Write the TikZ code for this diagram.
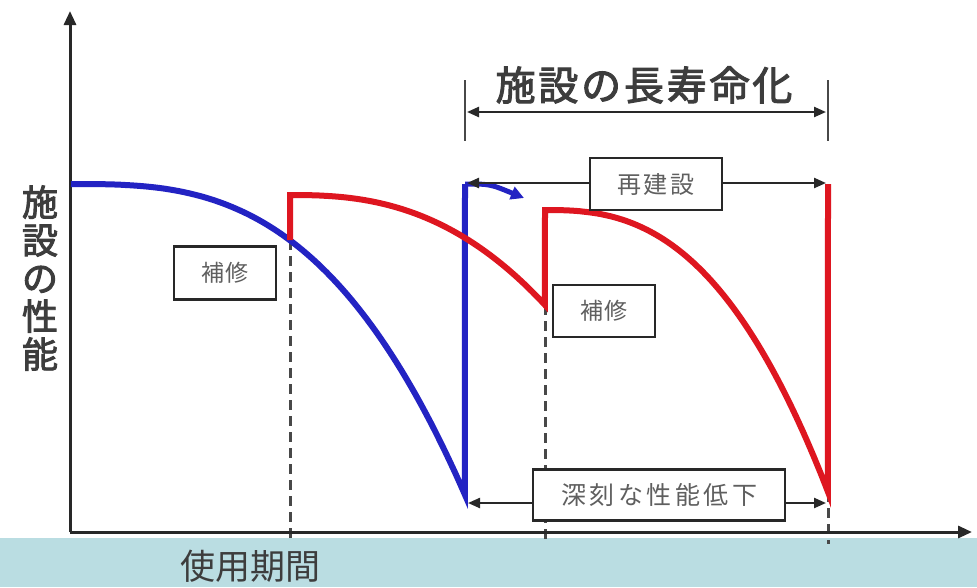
\documentclass[tikz,border=0pt]{standalone}
\usepackage{fontspec}
\newfontfamily\jp{Noto Sans CJK JP}
\newfontfamily\jpb[FakeBold=2.5]{Noto Sans CJK JP}
\usetikzlibrary{arrows.meta}
\definecolor{band}{RGB}{186,221,226}
\definecolor{bline}{RGB}{35,35,195}
\definecolor{rline}{RGB}{222,22,32}
\definecolor{boxtext}{RGB}{95,95,95}
\definecolor{dark}{RGB}{40,40,40}
\begin{document}
\begin{tikzpicture}[x=1pt,y=-1pt,
  axisline/.style={line width=3pt,draw=dark,-{Triangle[length=14pt,width=12pt]}},
  curveline/.style={line width=6pt},
  dimline/.style={line width=2.3pt,draw=dark,-{Triangle[length=12pt,width=10pt]}},
  tickline/.style={line width=2.5pt,draw=dark!85},
  dashline/.style={line width=3pt,draw=dark!85,dash pattern=on 10pt off 6pt},
  labelbox/.style={draw=dark,line width=2.3pt,fill=white,text=boxtext,inner sep=0pt,anchor=center},
]
\useasboundingbox (0,0) rectangle (977,587);
\fill[white] (0,0) rectangle (977,538);
\fill[band] (0,538) rectangle (977,587);

% dashed guides
\coordinate (r1low) at (290,240);
\coordinate (r2low) at (545,305);
\coordinate (r3low) at (828,492);
\draw[dashline] (r1low) -- (290,544);
\draw[dashline] (r2low) -- (545,544);
\draw[dashline] (r3low) -- (828,544);

% axes
\coordinate (origin) at (70,532);
\coordinate (ytop) at (70,11);
\coordinate (xend) at (972,532);
\draw[axisline] (origin) -- (ytop);
\draw[axisline] (origin) -- (xend);

% blue curve
\coordinate (bstart) at (71,184);
\coordinate (bbottom) at (465,495);
\coordinate (btop) at (465,184);
\draw[curveline,draw=bline] (bstart) -- plot[domain=0.01:1,samples=80] ({72+393*\x},{184+311*(\x)^2.9}) -- (btop);
\coordinate (barrowend) at (524,198);
\draw[line width=5pt,draw=bline,-{Triangle[length=13pt,width=13pt]}] (btop) .. controls (490,184) .. (barrowend);

% red curve
\coordinate (r1top) at (290,195);
\coordinate (r2top) at (545,210);
\coordinate (r3top) at (828,184);
\draw[curveline,draw=rline] (r1low) -- (r1top) -- plot[domain=0.01:1,samples=80] ({290+255*\x},{195+110*(\x)^2.5}) -- (r2top) -- plot[domain=0.01:1,samples=80] ({545+283*\x},{210+282*(\x)^2.6}) -- (r3top);

% label boxes
\node[labelbox,minimum width=102pt,minimum height=53pt,font=\jp\fontsize{23}{25}\selectfont\addfontfeature{LetterSpace=8}] (hoshu1) at (225,273) {補修};
\node[labelbox,minimum width=102pt,minimum height=52pt,font=\jp\fontsize{23}{25}\selectfont\addfontfeature{LetterSpace=8}] (hoshu2) at (604,311) {補修};
\node[labelbox,minimum width=132pt,minimum height=52pt,font=\jp\fontsize{24}{26}\selectfont\addfontfeature{LetterSpace=12}] (saiken) at (656,184) {再建設};
\node[labelbox,minimum width=252pt,minimum height=51pt,font=\jp\fontsize{25}{27}\selectfont\addfontfeature{LetterSpace=14}] (shinkoku) at (659,495) {深刻な性能低下};

% 再建設 arrows
\coordinate (sl) at (467,183);
\coordinate (sr) at (826,183);
\draw[dimline] (saiken.west |- sl) -- (sl);
\draw[dimline] (saiken.east |- sr) -- (sr);

% 深刻な性能低下 arrows
\coordinate (dl) at (468,503);
\coordinate (dr) at (826,503);
\draw[dimline] (shinkoku.west |- dl) -- (dl);
\draw[dimline] (shinkoku.east |- dr) -- (dr);

% 長寿命化 dimension
\coordinate (t1a) at (465,80);
\coordinate (t1b) at (465,141);
\coordinate (t2a) at (828,80);
\coordinate (t2b) at (828,141);
\draw[tickline] (t1a) -- (t1b);
\draw[tickline] (t2a) -- (t2b);
\coordinate (la) at (467,112);
\coordinate (lb) at (826,112);
\draw[line width=2.3pt,draw=dark,{Triangle[length=12pt,width=10pt]}-{Triangle[length=12pt,width=10pt]}] (la) -- (lb);
\node[text=dark!90,font=\jpb\fontsize{40}{42}\selectfont\addfontfeature{LetterSpace=7}] (choju) at (644,85) {施設の長寿命化};

% axis labels
\node[text=dark!90,font=\jpb\fontsize{36}{38}\selectfont,align=center,inner sep=0pt] (ylab) at (40,278) {施\\[0pt]設\\[0pt]の\\[0pt]性\\[0pt]能};
\node[text=dark!90,font=\jp\fontsize{35}{37}\selectfont,inner sep=0pt] (xlab) at (250,566) {使用期間};
\end{tikzpicture}
\end{document}
